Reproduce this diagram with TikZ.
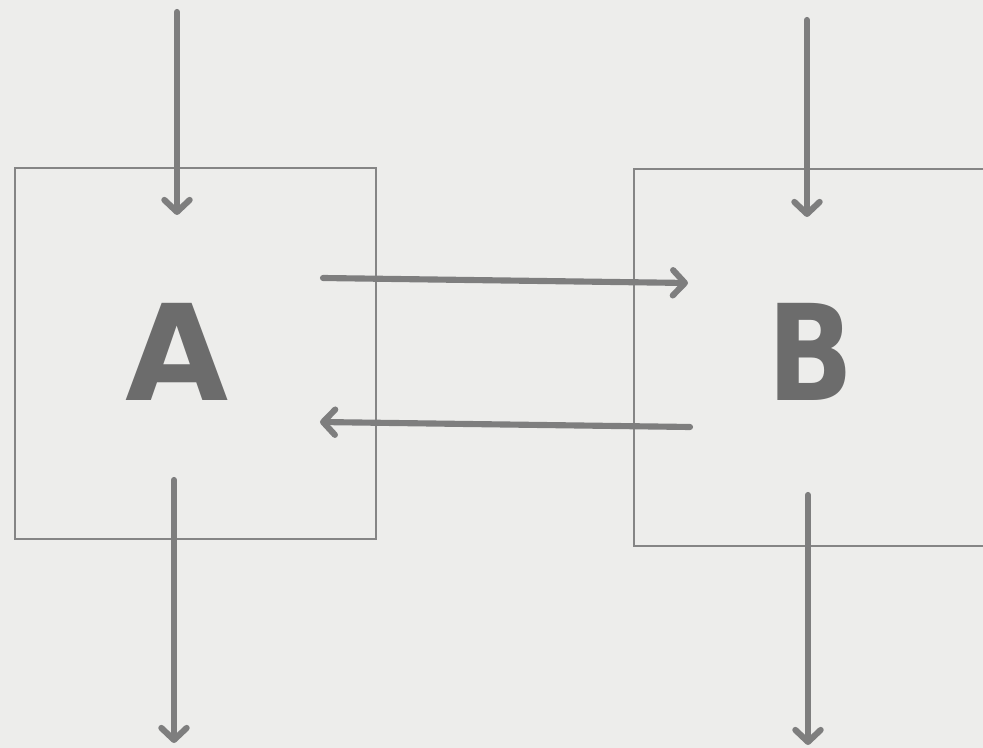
\documentclass[tikz,border=0pt]{standalone}
\usepackage{fontspec}
\newfontfamily\letterfont{DejaVu Sans}
\usetikzlibrary{arrows.meta}
\definecolor{paper}{HTML}{EDEDEB}
\definecolor{framegray}{HTML}{858585}
\definecolor{flowgray}{HTML}{7E7E7E}
\definecolor{lettergray}{HTML}{6C6C6C}
\begin{document}
\begin{tikzpicture}[x=0.75pt,y=-0.75pt,
  frame/.style={draw=framegray, line width=1.8pt, inner sep=0pt, anchor=north west},
  flow/.style={draw=flowgray, line width=4.6pt, line cap=round,
    -{Straight Barb[length=9pt,width=19pt,line cap=round,line join=round]}},
  letter/.style={text=lettergray, inner sep=0pt,
    font=\letterfont\bfseries\fontsize{100}{100}\selectfont}]
  % page and background
  \clip (0,0) rectangle (983,748);
  \fill[paper] (0,0) rectangle (983,748);

  % the two blocks
  \node[frame, minimum width=270.75pt, minimum height=278.25pt] (boxA) at (14,167) {};
  \node[frame, minimum width=300pt, minimum height=282.75pt] (boxB) at (633,168) {};
  \node[letter] (A) at (177,352) {A};
  \node[letter, xscale=0.85] (B) at (811,352) {B};

  % free ends of the connectors
  \coordinate (inA)   at (177,12);
  \coordinate (inAt)  at (177,215);
  \coordinate (outA)  at (174,480);
  \coordinate (outAt) at (174,743);
  \coordinate (inB)   at (807,20);
  \coordinate (inBt)  at (807,217);
  \coordinate (outB)  at (808,495);
  \coordinate (outBt) at (808,745);
  \coordinate (abS)   at (323,278);
  \coordinate (abE)   at (688,283);
  \coordinate (baS)   at (690,427);
  \coordinate (baE)   at (320,422);

  % flows
  \draw[flow] (inA) -- (inAt);
  \draw[flow] (outA) -- (outAt);
  \draw[flow] (inB) -- (inBt);
  \draw[flow] (outB) -- (outBt);
  \draw[flow] (abS) -- (abE);
  \draw[flow] (baS) -- (baE);
\end{tikzpicture}
\end{document}
